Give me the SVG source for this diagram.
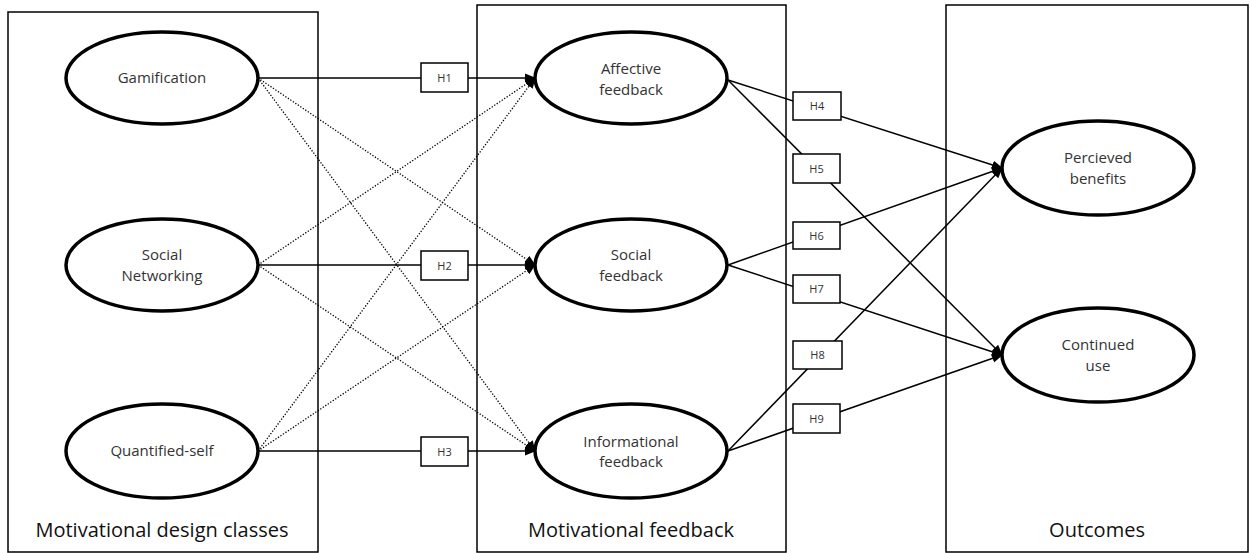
<svg xmlns="http://www.w3.org/2000/svg" width="1250" height="553" viewBox="0 0 1250 553">
  <style>
    .panel { fill: none; stroke: #000; stroke-width: 1.5; }
    .node ellipse { fill: #fff; stroke: #000; stroke-width: 3.5; }
    .node text { font-family: "Open Sans", "Liberation Sans", sans-serif; font-size: 15px; fill: #333; text-anchor: middle; }
    .hyp rect { fill: #fff; stroke: #000; stroke-width: 1.5; }
    .hyp text { font-family: "Open Sans", "Liberation Sans", sans-serif; font-size: 11px; fill: #333; text-anchor: middle; }
    .title { font-family: "Open Sans", "Liberation Sans", sans-serif; font-size: 20px; fill: #111; text-anchor: middle; }
    .solid { stroke: #000; stroke-width: 1.5; fill: none; marker-end: url(#arrow); }
    .dotted { stroke: #000; stroke-width: 1.3; stroke-dasharray: 1.3 1.7; fill: none; marker-end: url(#arrow); }
  </style>
  <defs>
    <marker id="arrow" markerUnits="userSpaceOnUse" markerWidth="11" markerHeight="10" refX="10" refY="5" orient="auto">
      <path d="M0,0.5 L11,5 L0,9.5 Z" fill="#000"/>
    </marker>
  </defs>

  <rect width="1250" height="553" fill="#fff"/>

  <!-- column panels -->
  <g id="panels">
    <rect class="panel" x="8" y="12" width="310" height="540"/>
    <rect class="panel" x="477" y="5" width="309" height="547"/>
    <rect class="panel" x="946" y="5" width="302" height="547"/>
    <text class="title" x="162" y="537">Motivational design classes</text>
    <text class="title" x="631" y="537">Motivational feedback</text>
    <text class="title" x="1097" y="537">Outcomes</text>
  </g>

  <!-- paths between constructs -->
  <g id="connectors">
    <line class="solid" x1="258" y1="78" x2="535" y2="78"/>
    <line class="solid" x1="258" y1="265" x2="535" y2="265"/>
    <line class="solid" x1="258" y1="451" x2="535" y2="451"/>
    <line class="dotted" x1="258" y1="78" x2="535" y2="265"/>
    <line class="dotted" x1="258" y1="78" x2="535" y2="451"/>
    <line class="dotted" x1="258" y1="265" x2="535" y2="78"/>
    <line class="dotted" x1="258" y1="265" x2="535" y2="451"/>
    <line class="dotted" x1="258" y1="451" x2="535" y2="78"/>
    <line class="dotted" x1="258" y1="451" x2="535" y2="265"/>
    <line class="solid" x1="728" y1="80" x2="1002" y2="168"/>
    <line class="solid" x1="728" y1="80" x2="1002" y2="355"/>
    <line class="solid" x1="728" y1="265" x2="1002" y2="168"/>
    <line class="solid" x1="728" y1="265" x2="1002" y2="355"/>
    <line class="solid" x1="728" y1="451" x2="1002" y2="168"/>
    <line class="solid" x1="728" y1="451" x2="1002" y2="355"/>
  </g>

  <!-- hypothesis labels -->
  <g id="h1" class="hyp"><rect x="421" y="63" width="47" height="29"/><text x="444.5" y="82">H1</text></g>
  <g id="h2" class="hyp"><rect x="421" y="251" width="47" height="29"/><text x="444.5" y="270">H2</text></g>
  <g id="h3" class="hyp"><rect x="421" y="437" width="47" height="29"/><text x="444.5" y="456">H3</text></g>
  <g id="h4" class="hyp"><rect x="793" y="92" width="48" height="28"/><text x="817" y="110">H4</text></g>
  <g id="h5" class="hyp"><rect x="793" y="154" width="47" height="29"/><text x="816.5" y="173">H5</text></g>
  <g id="h6" class="hyp"><rect x="793" y="222" width="47" height="27"/><text x="816.5" y="240">H6</text></g>
  <g id="h7" class="hyp"><rect x="793" y="275" width="47" height="28"/><text x="816.5" y="293">H7</text></g>
  <g id="h8" class="hyp"><rect x="793" y="341" width="49" height="28"/><text x="817.5" y="359">H8</text></g>
  <g id="h9" class="hyp"><rect x="793" y="404" width="47" height="29"/><text x="816.5" y="423">H9</text></g>

  <!-- constructs -->
  <g id="gamification" class="node"><ellipse cx="162" cy="78" rx="96" ry="46"/><text x="162" y="83">Gamification</text></g>
  <g id="social-networking" class="node"><ellipse cx="162" cy="265" rx="96" ry="46"/><text x="162" y="260">Social</text><text x="162" y="281">Networking</text></g>
  <g id="quantified-self" class="node"><ellipse cx="162" cy="451" rx="96" ry="47"/><text x="162" y="456">Quantified-self</text></g>
  <g id="affective-feedback" class="node"><ellipse cx="631" cy="78" rx="96" ry="46"/><text x="631" y="74">Affective</text><text x="631" y="95">feedback</text></g>
  <g id="social-feedback" class="node"><ellipse cx="631" cy="265" rx="96" ry="46"/><text x="631" y="260">Social</text><text x="631" y="281">feedback</text></g>
  <g id="informational-feedback" class="node"><ellipse cx="631" cy="451" rx="96" ry="47"/><text x="631" y="447">Informational</text><text x="631" y="467">feedback</text></g>
  <g id="perceived-benefits" class="node"><ellipse cx="1098" cy="168" rx="96" ry="47"/><text x="1098" y="163">Percieved</text><text x="1098" y="184">benefits</text></g>
  <g id="continued-use" class="node"><ellipse cx="1098" cy="355" rx="96" ry="47"/><text x="1098" y="350">Continued</text><text x="1098" y="371">use</text></g>
</svg>
